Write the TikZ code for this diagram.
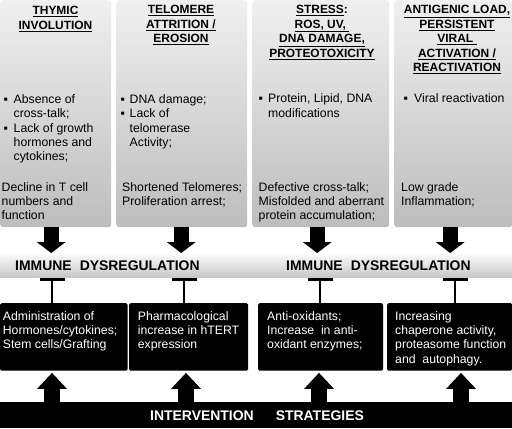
\documentclass[tikz,border=0pt]{standalone}
\usepackage{fontspec}
\setmainfont{Liberation Sans}
\usetikzlibrary{arrows.meta}
\begin{document}
\begin{tikzpicture}[x=1bp,y=-1bp,
  colbox/.style={rounded corners=3bp, top color=black!6, bottom color=black!26, draw=none, inner sep=0pt, anchor=north west, minimum height=227bp},
  band/.style={top color=black!3, bottom color=black!22, draw=none, inner sep=0pt, anchor=north west, minimum height=22bp, minimum width=512bp},
  blk/.style={fill=black, rounded corners=1.5bp, inner sep=0pt, anchor=north west, minimum height=67.5bp},
  ttl/.style={font=\fontsize{12}{14.5}\selectfont\bfseries, align=center, inner sep=0pt, anchor=north},
  body/.style={font=\fontsize{12.3}{14.5}\selectfont, align=left, inner sep=0pt, anchor=north west},
  bul/.style={font=\fontsize{12.3}{14.5}\selectfont, inner sep=0pt, anchor=base west},
  wbody/.style={body, text=white},
  big/.style={font=\fontsize{14}{16}\selectfont\bfseries, inner sep=0pt, anchor=base west},
  dnarrow/.style={line width=15bp, -{Triangle[width=29bp,length=11bp,line width=0pt]}, shorten >=2bp},
  uparrow/.style={line width=16bp, -{Triangle[width=30bp,length=16bp,line width=0pt]}, shorten >=2bp},
  inhib/.style={line width=2bp, -{Bar[width=25bp,line width=3bp]}, shorten >=1bp}
]
\useasboundingbox (0,0) rectangle (512,428);

% top columns
\node[colbox, minimum width=111bp] (c1) at (0,0) {};
\node[colbox, minimum width=131bp] (c2) at (116,0) {};
\node[colbox, minimum width=137bp] (c3) at (252,0) {};
\node[colbox, minimum width=118bp] (c4) at (394,0) {};

% titles
\node[ttl] (t1) at (55.5,6.4) {\underline{THYMIC}\\\underline{INVOLUTION}};
\node[ttl] (t2) at (181,5.4) {\underline{TELOMERE}\\\underline{ATTRITION /}\\\underline{EROSION}};
\node[ttl] (t3) at (322,5.4) {\underline{STRESS}:\\\underline{ROS, UV,\ }\\\underline{DNA DAMAGE,}\\\underline{PROTEOTOXICITY}};
\node[ttl] (t4) at (457,5.4) {\underline{ANTIGENIC LOAD,}\\\underline{PERSISTENT}\\\underline{VIRAL\ }\\\underline{ACTIVATION /}\\\underline{REACTIVATION}};

% column 1 body
\node[bul] (b11) at (3.5,103) {▪};
\node[body] (x11) at (13.5,94) {Absence of\\cross-talk;};
\node[bul] (b12) at (3.5,132) {▪};
\node[body] (x12) at (13.5,123) {Lack of growth\\hormones and\\cytokines;};
\node[body] (x13) at (1.5,182) {Decline in T cell\\numbers and\\function};

% column 2 body
\node[bul] (b21) at (120.5,103) {▪};
\node[body] (x21) at (129.5,94) {DNA damage;};
\node[bul] (b22) at (120.5,117.5) {▪};
\node[body] (x22) at (129.5,108.5) {Lack of\\telomerase\\Activity;};
\node[body] (x23) at (122,182) {Shortened Telomeres;\\Proliferation arrest;};

% column 3 body
\node[bul] (b31) at (258.5,102.5) {▪};
\node[body] (x31) at (268,93.5) {Protein, Lipid, DNA\\modifications};
\node[body] (x32) at (258.5,182) {Defective cross-talk;\\Misfolded and aberrant\\protein accumulation;};

% column 4 body
\node[bul] (b41) at (403.5,102.5) {▪};
\node[body] (x41) at (414,93.5) {Viral reactivation};
\node[body] (x42) at (401,182) {Low grade\\Inflammation;};

% immune dysregulation band
\node[band] (imm) at (0,255) {};
\node[big] (imm1) at (15,270) {IMMUNE\hspace{8bp}DYSREGULATION};
\node[big] (imm2) at (286,270) {IMMUNE\hspace{8bp}DYSREGULATION};

% black intervention boxes
\node[blk, minimum width=127.5bp] (k1) at (0,303) {};
\node[blk, minimum width=119bp] (k2) at (129,303) {};
\node[blk, minimum width=125bp] (k3) at (258,303) {};
\node[blk, minimum width=125bp] (k4) at (387,303) {};
\node[wbody] (y1) at (2.7,311) {Administration of\\Hormones/cytokines;\\Stem cells/Grafting};
\node[wbody] (y2) at (137.7,311) {Pharmacological\\increase in hTERT\\expression};
\node[wbody] (y3) at (267,311) {Anti-oxidants;\\Increase\ \ in anti-\\oxidant enzymes;};
\node[wbody] (y4) at (395,311) {Increasing\\chaperone activity,\\proteasome function\\and\ \ autophagy.};

% bottom band
\node[fill=black, inner sep=0pt, anchor=north west, minimum width=512bp, minimum height=26bp] (iv) at (0,402) {};
\node[big, text=white] (ivt) at (150,420) {INTERVENTION\hspace{22bp}STRATEGIES};

% down arrows
\draw[dnarrow] ([xshift=-4.5bp]c1.south) -- ([xshift=-4.5bp]c1.south |- imm.north);
\draw[dnarrow] ([xshift=-0.5bp]c2.south) -- ([xshift=-0.5bp]c2.south |- imm.north);
\draw[dnarrow] ([xshift=-3.5bp]c3.south) -- ([xshift=-3.5bp]c3.south |- imm.north);
\draw[dnarrow] ([xshift=-3bp]c4.south) -- ([xshift=-3bp]c4.south |- imm.north);

% inhibition bars
\draw[inhib] ([xshift=-11.75bp]k1.north) -- ([xshift=-11.75bp]k1.north |- imm.south);
\draw[inhib] ([xshift=-4.5bp]k2.north) -- ([xshift=-4.5bp]k2.north |- imm.south);
\draw[inhib] ([xshift=-0.5bp]k3.north) -- ([xshift=-0.5bp]k3.north |- imm.south);
\draw[inhib] ([xshift=5.5bp]k4.north) -- ([xshift=5.5bp]k4.north |- imm.south);

% up arrows
\draw[uparrow] ([xshift=52bp]iv.north west) -- ([xshift=52bp]iv.north west |- k1.south);
\draw[uparrow] ([xshift=186bp]iv.north west) -- ([xshift=186bp]iv.north west |- k2.south);
\draw[uparrow] ([xshift=319bp]iv.north west) -- ([xshift=319bp]iv.north west |- k3.south);
\draw[uparrow] ([xshift=461bp]iv.north west) -- ([xshift=461bp]iv.north west |- k4.south);
\end{tikzpicture}
\end{document}
